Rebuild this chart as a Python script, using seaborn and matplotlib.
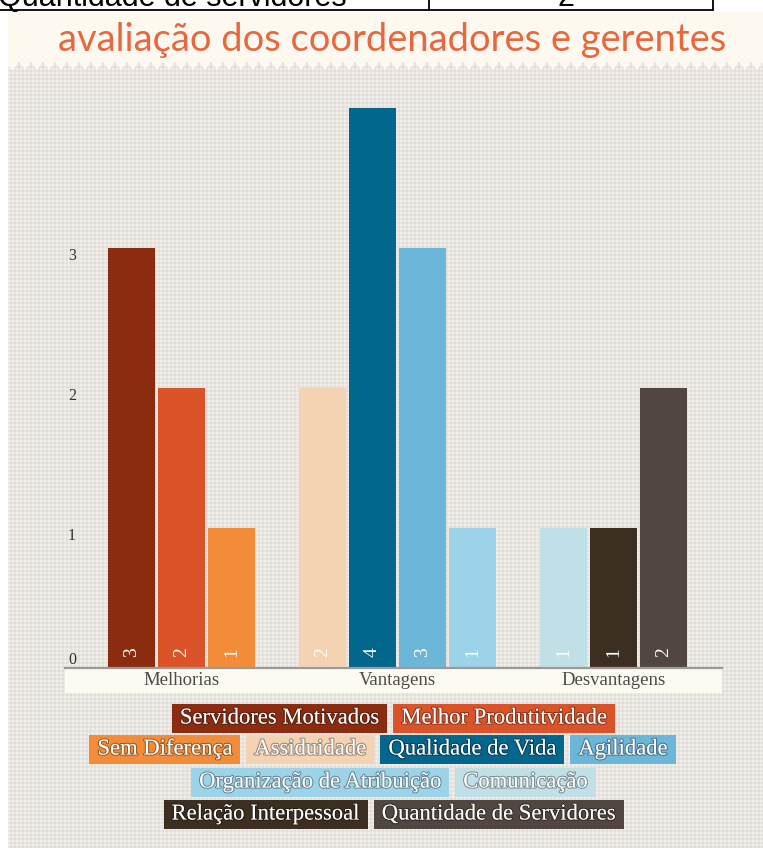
import numpy as np
import pandas as pd
import matplotlib
matplotlib.use("Agg")
import matplotlib.pyplot as plt
import matplotlib.patheffects as pe
from matplotlib.patches import Rectangle, Polygon
from matplotlib.transforms import offset_copy
import seaborn as sns

# data
categories = ["Melhorias", "Vantagens", "Desvantagens"]
series = ["Servidores Motivados", "Melhor Produtitvidade", "Sem Diferença",
          "Assiduidade", "Qualidade de Vida", "Agilidade",
          "Organização de Atribuição", "Comunicação",
          "Relação Interpessoal", "Quantidade de Servidores"]
series_category = ["Melhorias"] * 3 + ["Vantagens"] * 4 + ["Desvantagens"] * 3
values = [3, 2, 1, 2, 4, 3, 1, 1, 1, 2]
colors = ["#8b2c10", "#db5329", "#f28c38", "#f4d3b3", "#03668c",
          "#6cb6d9", "#9dd3e8", "#c0dfe7", "#3d2e22", "#524640"]
y_ticks = [0, 1, 2, 3]
legend_rows = [2, 4, 2, 2]
title = "avaliação dos coordenadores e gerentes"

W, H = 763, 848
sns.set_theme(style="white")
plt.rcParams["font.family"] = ["Liberation Serif", "DejaVu Serif"]

df = pd.DataFrame({"serie": series, "categoria": series_category, "valor": values})
step = 50 / 216  # slot width relative to category spacing
cat_idx = df["categoria"].map({c: i for i, c in enumerate(categories)})
slot = df.groupby("categoria").cumcount()
n = df.groupby("categoria")["serie"].transform("count")
df["pos"] = cat_idx + (slot - (n - 1) / 2) * step

fig = plt.figure(figsize=(W / 100, H / 100), dpi=100)
fig.patch.set_facecolor("white")

# background layer in pixel coordinates
bg = fig.add_axes([0, 0, 1, 1], zorder=-5)
yy, xx = np.mgrid[0:H - 12, 0:W - 8]
tex = 225 + 8 * ((yy % 4) < 2) + 8 * ((xx % 4) < 2)
tex = np.stack([tex, tex - 3, tex - 8], axis=-1).clip(0, 255).astype(np.uint8)
bg.imshow(tex, extent=(8, W, H, 12), aspect="auto", interpolation="nearest")
zx = np.arange(W, 7, -6)
zy = np.where((np.arange(len(zx)) % 2) == 0, 62, 70)
band = [(8, 12), (W, 12)] + list(zip(zx, zy)) + [(8, 66)]
bg.add_patch(Polygon(band, closed=True, fc="#fdf9f1", ec="none"))
# cut-off table strip at the very top
bg.plot([0, 713], [9.5, 9.5], color="black", lw=1.3)
bg.plot([429, 429], [0, 9.5], color="black", lw=1.3)
bg.plot([713, 713], [0, 9.5], color="black", lw=1.3)
bg.text(-2, 6, "Quantidade de servidores", family="Liberation Sans", fontsize=22,
        color="black", va="baseline", ha="left")
bg.text(566, 6, "2", family="Liberation Sans", fontsize=22, color="black",
        va="baseline", ha="center")
bg.set_xlim(0, W)
bg.set_ylim(H, 0)
bg.axis("off")

renderer = fig.canvas.get_renderer()

# title fitted to the reference width
t = bg.text(392, 40, title, color="#e8673d", fontsize=28, ha="center", va="center",
            family=["Lato", "DejaVu Sans"])
tw = t.get_window_extent(renderer).width
t.set_fontsize(28 * 669 / tw)

# chart axes
ax_l, ax_r, ax_b, ax_t = 65, 722, 668, 80
ax = fig.add_axes([ax_l / W, (H - ax_b) / H, (ax_r - ax_l) / W, (ax_b - ax_t) / H])
ax.set_facecolor("none")
sns.barplot(data=df, x="pos", y="valor", hue="serie", hue_order=series,
            palette=colors, native_scale=True, dodge=False, width=47 / 50,
            saturation=1, legend=False, linewidth=0, ax=ax)
ax.set_xlim((ax_l - 181.5) / 216, (ax_r - 181.5) / 216)
ax.set_ylim(0, (ax_b - ax_t) / 140)

for bar, v in zip(ax.patches, df["valor"]):
    ax.text(bar.get_x() + bar.get_width() / 2, 0, str(v), rotation=90,
            color="white", fontsize=14, ha="center", va="center",
            transform=offset_copy(ax.transData, fig=fig, y=16, units="dots"))

ax.set_xticks(range(len(categories)), categories)
ax.set_yticks(y_ticks, [str(v) for v in y_ticks])
ax.tick_params(axis="x", length=0, pad=3, labelsize=13.5, labelcolor="#4a4a4a")
ax.tick_params(axis="y", length=0, pad=-8, labelsize=11.5, labelcolor="#333333")
for lbl in ax.get_yticklabels():
    lbl.set_verticalalignment("bottom" if lbl.get_text() == "0" else "top")
ax.set_xlabel("")
ax.set_ylabel("")
for s in ["top", "right", "left"]:
    ax.spines[s].set_visible(False)
ax.spines["bottom"].set_color("#9a9a9a")
ax.spines["bottom"].set_linewidth(1.6)
ax.add_patch(Rectangle((0, -25 / (ax_b - ax_t)), 1, 25 / (ax_b - ax_t),
                       transform=ax.transAxes, fc="#fdfaf1", ec="none",
                       clip_on=False, zorder=-1))
ax.grid(False)

# legend as coloured tags, rows centred under the chart
centre = (ax_l + ax_r) / 2
row_y = [718, 749, 782, 814]
row_shift = [0, -11, 0, 0]
pad, gap, bh = 8, 6, 29
k = 0
for r, cnt in enumerate(legend_rows):
    items = []
    for name, col in zip(series[k:k + cnt], colors[k:k + cnt]):
        txt = bg.text(0, row_y[r], name, color="white", fontsize=16.3,
                      ha="center", va="center",
                      path_effects=[pe.withStroke(linewidth=1.6, foreground=(0, 0, 0, 0.35))])
        w = txt.get_window_extent(renderer).width + 2 * pad
        items.append((txt, col, w))
    total = sum(w for _, _, w in items) + gap * (cnt - 1)
    x0 = centre + row_shift[r] - total / 2
    for txt, col, w in items:
        bg.add_patch(Rectangle((x0, row_y[r] - bh / 2), w, bh, fc=col, ec="none"))
        txt.set_x(x0 + w / 2)
        x0 += w + gap
    k += cnt

fig.savefig("out.png", dpi=100)
